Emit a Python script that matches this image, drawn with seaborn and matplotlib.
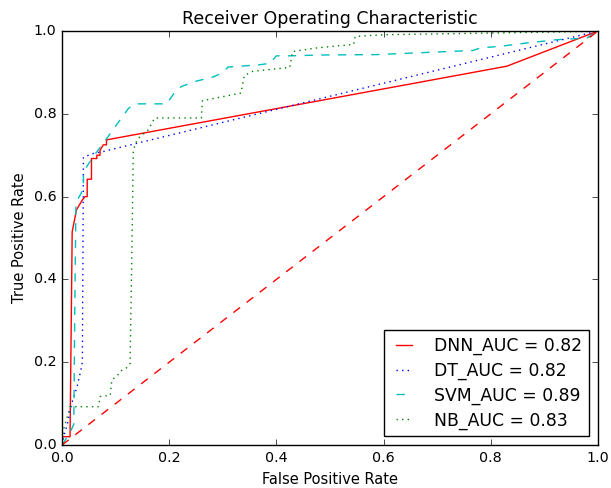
import matplotlib
matplotlib.use('Agg')

import matplotlib.pyplot as plt
import pandas as pd
import seaborn as sns

# ROC points
dnn_fpr = [0.0, 0.0, 0.015, 0.019, 0.027, 0.038, 0.043, 0.047, 0.047, 0.055, 0.055,
           0.065, 0.065, 0.071, 0.071, 0.077, 0.083, 0.083, 0.83, 1.0]
dnn_tpr = [0.0, 0.02, 0.02, 0.515, 0.568, 0.592, 0.60, 0.60, 0.642, 0.642, 0.692,
           0.692, 0.70, 0.70, 0.712, 0.725, 0.725, 0.737, 0.915, 1.0]

dt_fpr = [0.0, 0.003, 0.01, 0.018, 0.028, 0.035, 0.038, 0.040, 0.050, 0.060, 0.074, 1.0]
dt_tpr = [0.0, 0.02, 0.05, 0.10, 0.14, 0.18, 0.20, 0.695, 0.70, 0.705, 0.708, 1.0]

svm_fpr = [0.0, 0.005, 0.015, 0.022, 0.024, 0.026, 0.030, 0.034, 0.040, 0.040, 0.058,
           0.077, 0.124, 0.136, 0.195, 0.211, 0.223, 0.248, 0.254, 0.282, 0.298, 0.31,
           0.366, 0.388, 0.40, 0.425, 0.48, 0.587, 0.767, 0.78, 0.817, 0.867, 0.923,
           0.979, 1.0]
svm_tpr = [0.0, 0.01, 0.03, 0.05, 0.35, 0.584, 0.595, 0.604, 0.62, 0.66, 0.696,
           0.729, 0.813, 0.824, 0.824, 0.853, 0.866, 0.878, 0.88, 0.889, 0.898, 0.913,
           0.918, 0.922, 0.94, 0.94, 0.942, 0.943, 0.953, 0.959, 0.963, 0.971, 0.979,
           0.983, 1.0]

nb_fpr = [0.0, 0.0025, 0.008, 0.015, 0.068, 0.071, 0.09, 0.093, 0.108, 0.111, 0.12,
          0.127, 0.131, 0.133, 0.14, 0.146, 0.16, 0.173, 0.26, 0.262, 0.267, 0.334,
          0.34, 0.354, 0.379, 0.388, 0.425, 0.43, 0.438, 0.475, 0.506, 0.54, 0.544,
          0.547, 0.60, 0.99, 1.0]
nb_tpr = [0.0, 0.036, 0.06, 0.0925, 0.0925, 0.117, 0.12, 0.157, 0.174, 0.18, 0.186,
          0.197, 0.52, 0.712, 0.737, 0.745, 0.76, 0.79, 0.79, 0.832, 0.833, 0.85,
          0.892, 0.902, 0.906, 0.907, 0.912, 0.95, 0.952, 0.959, 0.963, 0.967, 0.967,
          0.987, 0.991, 0.999, 1.0]

labels = ['DNN_AUC = 0.82', 'DT_AUC = 0.82', 'SVM_AUC = 0.89', 'NB_AUC = 0.83']
chance = [0.0, 1.0]

plt.style.use('classic')

fig = plt.figure(figsize=(6.11, 4.88), dpi=100)
fig.patch.set_facecolor('white')
ax = fig.add_axes([62 / 611, 43 / 488, 536 / 611, 414 / 488])

curves = [
    (dnn_fpr, dnn_tpr, 'r', '-'),
    (dt_fpr, dt_tpr, 'b', ':'),
    (svm_fpr, svm_tpr, 'c', '--'),
    (nb_fpr, nb_tpr, 'g', ':'),
]
for (fpr, tpr, col, ls), lab in zip(curves, labels):
    df = pd.DataFrame({'fpr': fpr, 'tpr': tpr})
    sns.lineplot(data=df, x='fpr', y='tpr', sort=False, estimator=None,
                 color=col, linestyle=ls, linewidth=1.0, label=lab, ax=ax)

sns.lineplot(x=chance, y=chance, sort=False, estimator=None, color='r',
             linestyle='--', linewidth=1.0, ax=ax)

ax.set_xlim(0, 1)
ax.set_ylim(0, 1)
ax.set_xticks([0.0, 0.2, 0.4, 0.6, 0.8, 1.0])
ax.set_yticks([0.0, 0.2, 0.4, 0.6, 0.8, 1.0])
ax.tick_params(labelsize=10.3)
ax.set_title('Receiver Operating Characteristic', fontsize=12.5)
ax.set_xlabel('False Positive Rate', fontsize=10.5)
ax.set_ylabel('True Positive Rate', fontsize=10.5)
ax.legend(loc='lower right', fontsize=12.4, handlelength=1.5,
          handletextpad=1.0, labelspacing=0.38, borderpad=0.4)

plt.savefig('out.png', dpi=100, facecolor='white')
